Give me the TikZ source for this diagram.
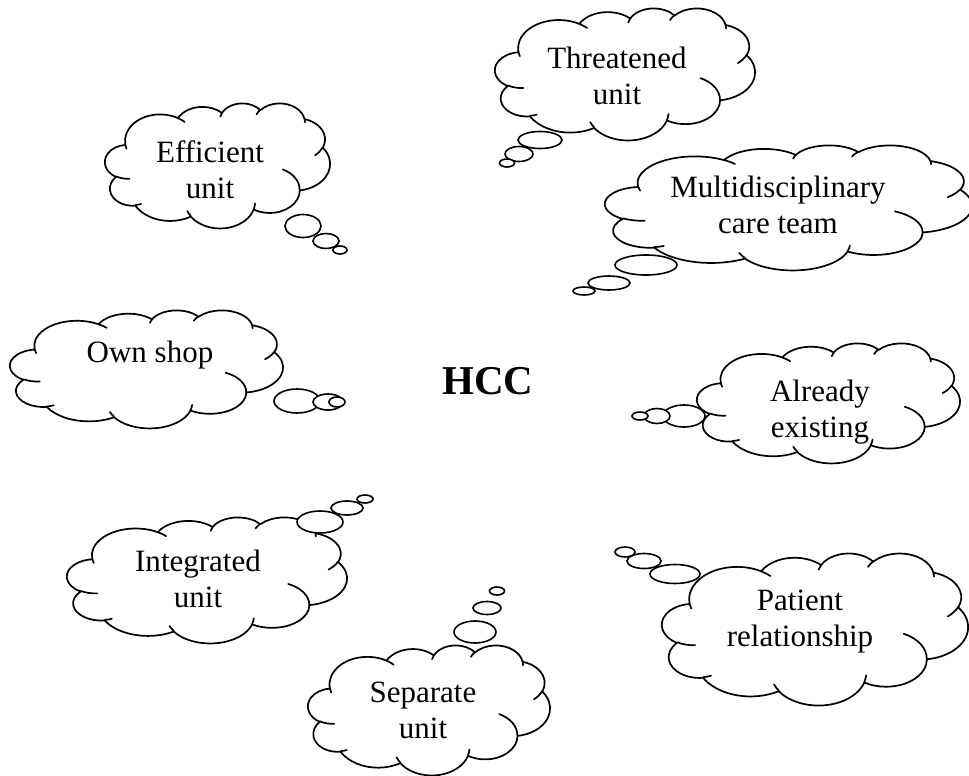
\documentclass[tikz,border=0pt]{standalone}
\usepackage{fontspec}
\setmainfont{Liberation Serif}
\usetikzlibrary{shapes.geometric}

% parametric angle on an ellipse for a given visual angle
\tikzset{
  declare function={pa(\pw,\ph,\pg)=atan2(\pw*sin(\pg),\ph*cos(\pg));},
  cloudline/.style={line width=1.7pt, line join=round, line cap=round},
  bubble/.style={ellipse, draw, fill=white, line width=1.6pt, inner sep=0pt, outer sep=0pt},
  thought/.style={font=\fontsize{31}{36}\selectfont, align=center, inner sep=0pt},
  hub/.style={font=\fontsize{41}{41}\selectfont\bfseries, inner sep=0pt},
}

% elliptic arc: x radius, y radius, start angle, sweep (visual angles)
\newcommand\carc[4]{arc[start angle={pa(#1,#2,#3)}, delta angle={mod(pa(#1,#2,#3+#4)-pa(#1,#2,#3)+720,360)}, x radius=#1, y radius=#2]}

% cloud outline fitted to the box (x0,y0)-(x1,y1)
\newcommand\thoughtcloud[4]{%
  \begin{scope}[shift={(#1,#2)}, xscale={(#3-#1)/43.2}, yscale={(#4-#2)/43.2}]
    \draw[cloudline, fill=white] (3.900,14.370)
      \carc{6.753}{9.190}{-190.4875}{123.7805}
      \carc{5.333}{7.267}{-144.1024}{89.9452}
      \carc{4.365}{5.945}{-145.8079}{99.7230}
      \carc{4.857}{6.595}{-130.9861}{117.2417}
      \carc{5.333}{7.273}{-78.7089}{109.0269}
      \carc{6.775}{9.220}{-46.2673}{130.2690}
      \carc{5.785}{7.867}{0.6250}{114.0333}
      \carc{6.752}{9.215}{22.4516}{115.1726}
      \carc{7.720}{10.543}{66.2426}{75.7110}
      \carc{4.360}{5.918}{-274.9421}{146.7356}
      \carc{4.345}{5.945}{-246.8285}{152.5189}
      -- cycle;
    \draw[cloudline]
      (4.693,26.177) \carc{4.345}{5.945}{86.7420}{26.4295}
      (6.928,34.899) \carc{4.360}{5.918}{73.6105}{11.4475}
      (16.478,39.090) \carc{6.752}{9.215}{137.6242}{14.0811}
      (28.827,34.751) \carc{6.752}{9.215}{6.4533}{15.9984}
      (34.129,22.954) \carc{5.785}{7.867}{-70.2924}{70.9174}
      (41.798,15.354) \carc{5.333}{7.273}{30.3180}{27.7515}
      (38.324,5.426) \carc{4.857}{6.595}{-13.7443}{14.8589}
      (29.078,3.952) \carc{4.857}{6.595}{-149.1815}{18.1954}
      (22.141,4.720) \carc{4.365}{5.945}{-163.4943}{17.6864}
      (14.000,5.192) \carc{6.753}{9.190}{-66.7070}{12.3194}
      (4.127,15.789) \carc{6.753}{9.190}{157.6544}{11.8582};
  \end{scope}}

\begin{document}
\begin{tikzpicture}[x=1pt, y=-1pt]
  \useasboundingbox (0,0) rectangle (969,776);

  % clouds
  \thoughtcloud{105}{103}{330}{228}
  \thoughtcloud{495}{8}{755}{140}
  \thoughtcloud{605}{145}{972}{270}
  \thoughtcloud{10}{310}{283}{428}
  \thoughtcloud{697}{343}{960}{463}
  \thoughtcloud{67}{517}{347}{643}
  \thoughtcloud{662}{553}{968}{705}
  \thoughtcloud{308}{645}{550}{775}

  % trailing bubbles, largest first
  \node[bubble, minimum width=36, minimum height=23] (eff1) at (303,226) {};
  \node[bubble, minimum width=26, minimum height=15] (eff2) at (326,241) {};
  \node[bubble, minimum width=14, minimum height=8]  (eff3) at (340,250) {};

  \node[bubble, minimum width=44, minimum height=17] (thr1) at (540,140) {};
  \node[bubble, minimum width=28, minimum height=15] (thr2) at (519,154) {};
  \node[bubble, minimum width=15, minimum height=8]  (thr3) at (507,163) {};

  \node[bubble, minimum width=62, minimum height=20] (mul1) at (646,265) {};
  \node[bubble, minimum width=42, minimum height=14] (mul2) at (609,283) {};
  \node[bubble, minimum width=22, minimum height=8]  (mul3) at (584,291) {};

  \node[bubble, minimum width=46, minimum height=24] (own1) at (297,401) {};
  \node[bubble, minimum width=30, minimum height=16] (own2) at (328,402) {};
  \node[bubble, minimum width=16, minimum height=10] (own3) at (337,402) {};

  \node[bubble, minimum width=42, minimum height=22] (alr1) at (684,416) {};
  \node[bubble, minimum width=26, minimum height=15] (alr2) at (657,416) {};
  \node[bubble, minimum width=16, minimum height=8]  (alr3) at (640,416) {};

  \node[bubble, minimum width=46, minimum height=22] (int1) at (320,522) {};
  \node[bubble, minimum width=32, minimum height=14] (int2) at (347,508) {};
  \node[bubble, minimum width=16, minimum height=8]  (int3) at (365,499) {};

  \node[bubble, minimum width=50, minimum height=19] (pat1) at (675,574) {};
  \node[bubble, minimum width=34, minimum height=15] (pat2) at (644,561) {};
  \node[bubble, minimum width=20, minimum height=10] (pat3) at (625,552) {};

  \node[bubble, minimum width=42, minimum height=22] (sep1) at (475,632) {};
  \node[bubble, minimum width=28, minimum height=13] (sep2) at (487,608) {};
  \node[bubble, minimum width=15, minimum height=8]  (sep3) at (497,591) {};

  % labels
  \node[thought] (eff) at (210,170) {Efficient\\unit};
  \node[thought] (thr) at (617,76) {Threatened\\unit};
  \node[thought] (mul) at (778,205) {Multidisciplinary\\care team};
  \node[thought] (own) at (150,355) {Own shop};
  \node[thought] (alr) at (820,412) {Already\\existing};
  \node[thought] (int) at (198,579) {Integrated\\unit};
  \node[thought] (pat) at (800,622) {Patient\\relationship};
  \node[thought] (sep) at (423,710) {Separate\\unit};

  \node[hub] (hcc) at (488,381) {HCC};
\end{tikzpicture}
\end{document}
